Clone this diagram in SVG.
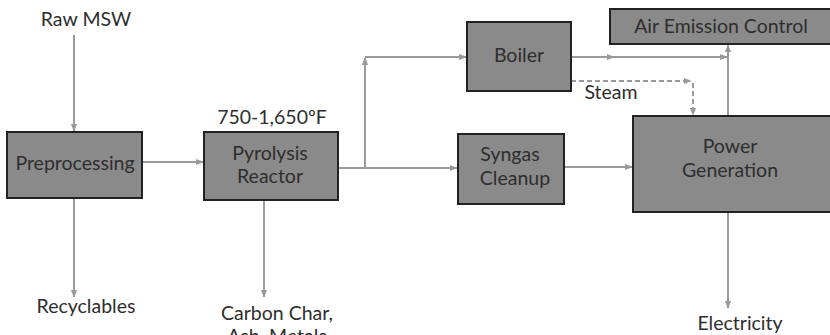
<svg xmlns="http://www.w3.org/2000/svg" width="830" height="335" viewBox="0 0 830 335">
  <defs>
    <marker id="arr" viewBox="0 0 10 10" refX="9" refY="5" markerWidth="4" markerHeight="4" orient="auto">
      <path d="M0,1 L10,5 L0,9 z" fill="#999"/>
    </marker>
    <style>
      .box { fill: #8a8a8a; stroke: #222; stroke-width: 2; }
      .lbl { font-family: Lato, "Noto Sans", sans-serif; font-size: 19.5px; fill: #2e2e2e; text-anchor: middle; }
      .ln { fill: none; stroke: #9a9a9a; stroke-width: 2; }
      .dash { fill: none; stroke: #9a9a9a; stroke-width: 2; stroke-dasharray: 5 3; }
    </style>
  </defs>
  <rect width="830" height="335" fill="#fff"/>

  <g id="connectors">
    <path class="ln" d="M74,35 V131" marker-end="url(#arr)"/>
    <path class="ln" d="M142,162 H203" marker-end="url(#arr)"/>
    <path class="ln" d="M74,199 V297" marker-end="url(#arr)"/>
    <path class="ln" d="M264,201 V297" marker-end="url(#arr)"/>
    <path class="ln" d="M338,168 H457" marker-end="url(#arr)"/>
    <path class="ln" d="M365,168 V58" marker-end="url(#arr)"/>
    <path class="ln" d="M365,57 H466" marker-end="url(#arr)"/>
    <path class="ln" d="M571,57 H614" marker-end="url(#arr)"/>
    <path class="ln" d="M614,57 H727" marker-end="url(#arr)"/>
    <path class="ln" d="M728,116 V45" marker-end="url(#arr)"/>
    <path class="dash" d="M571,81 H691" marker-end="url(#arr)"/>
    <path class="dash" d="M693,83 V115" marker-end="url(#arr)"/>
    <path class="ln" d="M564,167 H632" marker-end="url(#arr)"/>
    <path class="ln" d="M728,213 V308" marker-end="url(#arr)"/>
  </g>

  <g id="preprocessing">
    <rect class="box" x="7" y="132" width="135" height="66"/>
    <text class="lbl" x="75" y="170">Preprocessing</text>
  </g>
  <g id="pyrolysis">
    <rect class="box" x="204" y="132" width="134" height="68"/>
    <text class="lbl" x="270" y="160">Pyrolysis</text>
    <text class="lbl" x="270" y="183">Reactor</text>
  </g>
  <g id="boiler">
    <rect class="box" x="467" y="22" width="104" height="69"/>
    <text class="lbl" x="519" y="62">Boiler</text>
  </g>
  <g id="syngas-cleanup">
    <rect class="box" x="458" y="134" width="106" height="70"/>
    <text class="lbl" x="510" y="161">Syngas</text>
    <text class="lbl" x="515" y="185">Cleanup</text>
  </g>
  <g id="power-generation">
    <rect class="box" x="633" y="116" width="205" height="96"/>
    <text class="lbl" x="730" y="153">Power</text>
    <text class="lbl" x="730" y="177">Generation</text>
  </g>
  <g id="air-emission-control">
    <rect class="box" x="610" y="9" width="225" height="35"/>
    <text class="lbl" x="721" y="33">Air Emission Control</text>
  </g>

  <g id="labels">
    <text class="lbl" x="86" y="26">Raw MSW</text>
    <text class="lbl" x="86" y="313">Recyclables</text>
    <text class="lbl" x="272" y="124">750-1,650ºF</text>
    <text class="lbl" x="277" y="320">Carbon Char,</text>
    <text class="lbl" x="277" y="343">Ash, Metals</text>
    <text class="lbl" x="611" y="99">Steam</text>
    <text class="lbl" x="740" y="330">Electricity</text>
  </g>
</svg>
